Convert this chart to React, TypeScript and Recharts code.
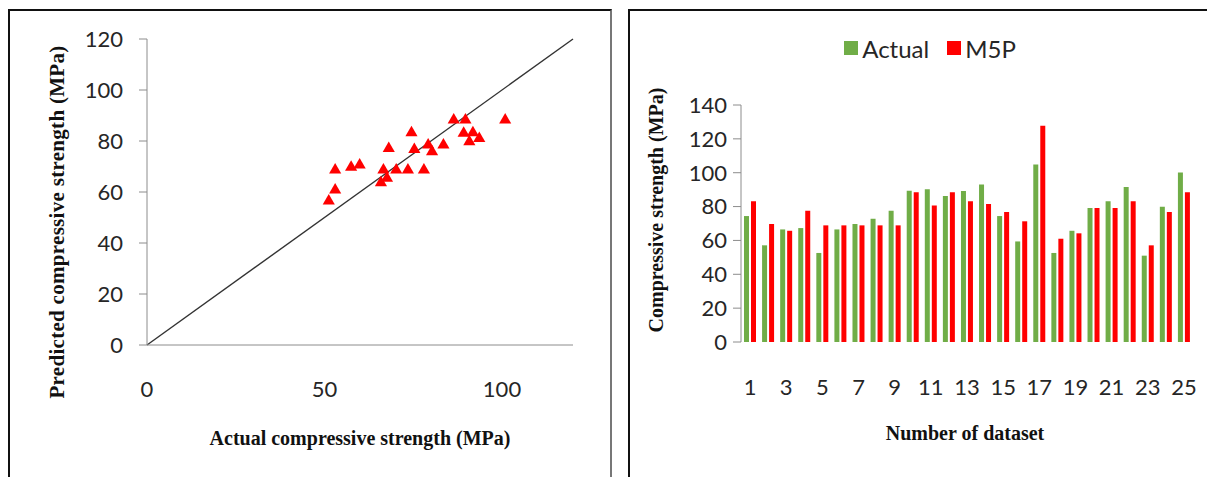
import React from 'react';
import {
  ScatterChart,
  Scatter,
  BarChart,
  Bar,
  XAxis,
  YAxis,
  ReferenceLine,
  Legend,
} from 'recharts';

// left panel: actual vs predicted (M5P)
const actualStrength = [51.2, 53.0, 53.0, 57.5, 59.9, 66.6, 65.9, 67.6, 68.1, 70.2, 73.5, 78.0, 74.5, 75.3, 79.2, 80.3, 83.5, 86.4, 89.7, 89.2, 91.8, 90.8, 93.6, 100.9];
const predictedStrength = [56.5, 60.8, 68.6, 69.7, 70.6, 68.6, 63.6, 65.4, 77.1, 68.6, 68.6, 68.6, 83.2, 76.7, 78.4, 75.8, 78.4, 88.2, 88.2, 83.0, 83.2, 79.7, 81.0, 88.2];
const scatterXTicks = [0, 50, 100];
const scatterYTicks = [0, 20, 40, 60, 80, 100, 120];
const idealLine = [{ x: 0, y: 0 }, { x: 120, y: 120 }];

// right panel: per dataset comparison
const datasets = ['1', '2', '3', '4', '5', '6', '7', '8', '9', '10', '11', '12', '13', '14', '15', '16', '17', '18', '19', '20', '21', '22', '23', '24', '25'];
const actualValues = [74.4, 57.1, 66.5, 67.3, 52.6, 66.5, 69.7, 72.8, 77.6, 89.4, 90.2, 86.2, 89.2, 93.1, 74.4, 59.4, 104.9, 52.6, 65.7, 79.1, 83.1, 91.5, 51.0, 79.9, 100.2];
const m5pValues = [83.1, 69.7, 65.7, 77.6, 68.9, 68.9, 68.9, 68.9, 68.9, 88.4, 80.7, 88.4, 83.1, 81.5, 76.8, 71.3, 127.8, 61.0, 64.2, 79.1, 79.1, 83.1, 57.1, 76.8, 88.4];
const barYTicks = [0, 20, 40, 60, 80, 100, 120, 140];
const boundaryTicks = Array.from({ length: datasets.length + 1 }, (_, i) => i);

const scatterData = actualStrength.map((x, i) => ({ x, y: predictedStrength[i] }));
const barData = datasets.map((name, i) => ({ name, actual: actualValues[i], m5p: m5pValues[i] }));

const tickStyle = { fontFamily: 'Lato', fontSize: 22, fill: '#262626' };
const titleStyle: React.CSSProperties = {
  position: 'absolute',
  fontFamily: '"Liberation Serif", serif',
  fontWeight: 'bold',
  fontSize: 20,
  color: '#111',
  whiteSpace: 'nowrap',
};

const LegendContent = (props: any) => (
  <div style={{ display: 'flex', justifyContent: 'center', alignItems: 'center', height: 30, gap: 18, fontFamily: 'Lato', fontSize: 24, color: '#262626' }}>
    {(props.payload || []).map((entry: any) => (
      <span key={entry.value} style={{ display: 'inline-flex', alignItems: 'center' }}>
        <span style={{ width: 14, height: 14, background: entry.color, marginRight: 4, display: 'inline-block' }} />
        {entry.value}
      </span>
    ))}
  </div>
);

export default function App() {
  return (
    <div style={{ position: 'fixed', left: 0, top: 0, width: 1207, height: 477, background: '#fff', overflow: 'hidden' }}>
      {/* panel frames */}
      <div style={{ position: 'absolute', left: 8, top: 9, width: 600, height: 480, borderTop: '2px solid #111', borderLeft: '2px solid #111', borderRight: '2px solid #777' }} />
      <div style={{ position: 'absolute', left: 628, top: 9, width: 600, height: 480, borderTop: '2px solid #111', borderLeft: '2px solid #111' }} />

      <div style={{ position: 'absolute', left: 0, top: 0 }}>
        <ScatterChart width={610} height={477} margin={{ top: 39, right: 37, left: 87, bottom: 92 }}>
          <XAxis
            dataKey="x"
            type="number"
            domain={[0, 120]}
            ticks={scatterXTicks}
            tick={tickStyle}
            tickLine={false}
            tickMargin={30}
            axisLine={{ stroke: '#8c8c8c' }}
            height={40}
          />
          <YAxis
            dataKey="y"
            type="number"
            domain={[0, 120]}
            ticks={scatterYTicks}
            tick={tickStyle}
            tickSize={8}
            tickMargin={16}
            tickLine={{ stroke: '#8c8c8c' }}
            axisLine={{ stroke: '#8c8c8c' }}
            width={60}
          />
          <XAxis xAxisId="top" orientation="top" type="number" domain={[0, 120]} height={0} tick={false} tickLine={false} axisLine={{ stroke: '#8c8c8c' }} />
          <YAxis yAxisId="right" orientation="right" type="number" domain={[0, 120]} width={0} tick={false} tickLine={false} axisLine={{ stroke: '#8c8c8c' }} />
          <ReferenceLine segment={idealLine} stroke="#333" strokeWidth={1.4} />
          <Scatter data={scatterData} fill="#ff0000" shape="triangle" isAnimationActive={false} />
        </ScatterChart>
      </div>

      <div style={{ ...titleStyle, fontSize: 21, letterSpacing: 0.3, left: 57, top: 222, transform: 'translate(-50%, -50%) rotate(-90deg)' }}>
        Predicted compressive strength (MPa)
      </div>
      <div style={{ ...titleStyle, left: 360, top: 438, transform: 'translate(-50%, -50%)' }}>
        Actual compressive strength (MPa)
      </div>

      <div style={{ position: 'absolute', left: 628, top: 0 }}>
        <BarChart width={579} height={477} data={barData} margin={{ top: 75, right: 14, left: 53, bottom: 95 }} barSize={5} barGap={2}>
          <Legend verticalAlign="top" content={<LegendContent />} wrapperStyle={{ top: 33, left: 46 }} />
          <XAxis xAxisId="edges" type="number" domain={[0, datasets.length]} ticks={boundaryTicks} allowDataOverflow tick={false} tickSize={8} tickLine={{ stroke: '#8c8c8c' }} axisLine={{ stroke: '#8c8c8c' }} height={0} />
          <XAxis dataKey="name" interval={1} tick={tickStyle} tickLine={false} axisLine={false} tickMargin={31} height={40} />
          <YAxis
            type="number"
            domain={[0, 140]}
            ticks={barYTicks}
            tick={tickStyle}
            tickSize={8}
            tickMargin={6}
            tickLine={{ stroke: '#8c8c8c' }}
            axisLine={{ stroke: '#8c8c8c' }}
            width={60}
          />
          <XAxis xAxisId="top" orientation="top" type="number" domain={[0, datasets.length]} height={0} tick={false} tickLine={false} axisLine={{ stroke: '#444', strokeWidth: 1.5 }} />
          <YAxis yAxisId="right" orientation="right" type="number" domain={[0, 140]} width={0} tick={false} tickLine={false} axisLine={{ stroke: '#444', strokeWidth: 1.5 }} />
          <Bar name="Actual" dataKey="actual" fill="#70ad47" isAnimationActive={false} />
          <Bar name="M5P" dataKey="m5p" fill="#ff0000" isAnimationActive={false} />
        </BarChart>
      </div>

      <div style={{ ...titleStyle, left: 656, top: 210, transform: 'translate(-50%, -50%) rotate(-90deg)' }}>
        Compressive strength (MPa)
      </div>
      <div style={{ ...titleStyle, left: 965, top: 433, transform: 'translate(-50%, -50%)' }}>
        Number of dataset
      </div>
    </div>
  );
}
